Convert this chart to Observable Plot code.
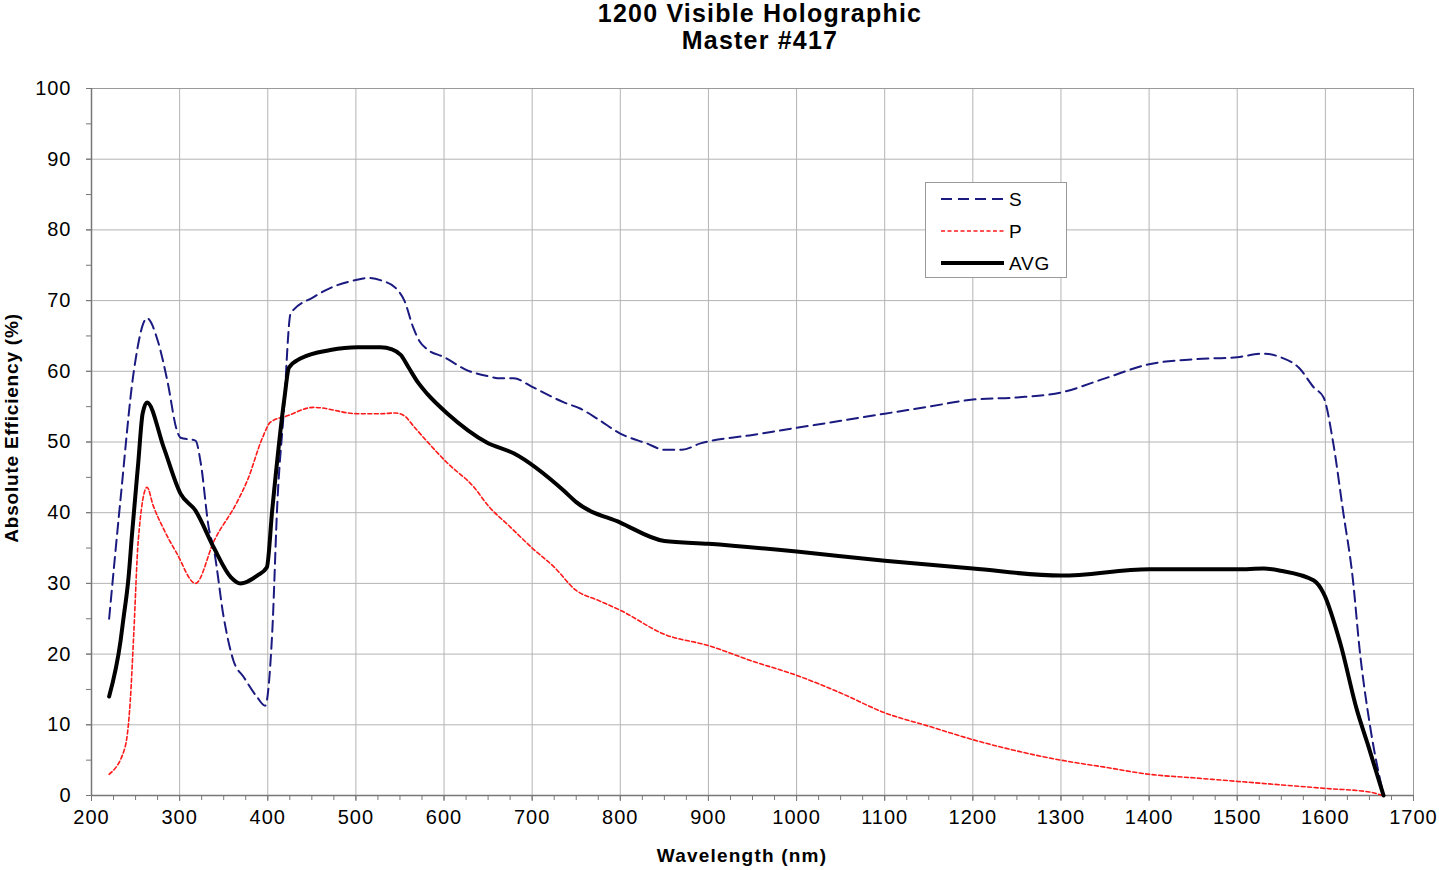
<!DOCTYPE html>
<html>
<head>
<meta charset="utf-8">
<script src="https://cdn.jsdelivr.net/npm/d3@7"></script>
<script src="https://cdn.jsdelivr.net/npm/@observablehq/plot@0.6"></script>
<style>
  html, body { margin: 0; padding: 0; background: #fff; }
  body { width: 1439px; height: 870px; position: relative; overflow: hidden; font-family: "Liberation Sans", Arial, sans-serif; }
  #title { position: absolute; left: 0; top: 0; width: 1520px; text-align: center; font-weight: bold; font-size: 25px; line-height: 27px; letter-spacing: 1.2px; color: #000; }
  #chart { position: absolute; left: 0; top: 60px; }
  #xlabel { position: absolute; top: 845px; left: 0; width: 1484px; text-align: center; font-weight: bold; font-size: 19px; letter-spacing: 1.2px; }
  #ylabel { position: absolute; left: 12px; top: 428px; transform: translate(-50%, -50%) rotate(-90deg); white-space: nowrap; font-weight: bold; font-size: 19px; letter-spacing: 0.8px; }
  #legend { position: absolute; left: 925px; top: 182px; width: 142px; height: 96px; background: #fff; border: 1px solid #999; box-sizing: border-box; }
  #chart text { letter-spacing: 1px; }
</style>
</head>
<body>
<div id="title">1200 Visible Holographic<br>Master #417</div>
<div id="chart"></div>
<div id="xlabel">Wavelength (nm)</div>
<div id="ylabel">Absolute Efficiency (%)</div>
<div id="legend"></div>
<script>
// S polarization
const sWl = [220,233,248,263,275,286,297,301,318,324,333,339,350,361,373,388,397,405,411,418,426,452,475,500,515,530,545,555,565,572,580,600,627,650,664,679,700,736,755,775,800,830,850,870,891,950,1000,1050,1100,1150,1200,1250,1300,1350,1400,1450,1500,1530,1549,1570,1587,1598,1609,1620,1631,1639,1651,1666];
const sVal = [25,42,60,67.5,64.4,58.7,51.6,50.6,50.2,47,37.9,34.7,25.2,19.1,16.7,13.9,12.7,22.9,41.7,54,68.2,70.5,72,72.9,73.2,72.8,71.8,70,66.2,64.3,63.2,62,60.1,59.3,59,59,57.8,55.6,54.7,53.2,51.2,49.8,48.9,48.9,49.8,51,52,53,54,55,56,56.3,57,59,61,61.7,62,62.5,62,60.5,57.7,56.3,49.8,40.3,30.8,20.5,9.6,0];
// P polarization
const pWl = [220,238,244,248,253,263,270,281,297,318,339,366,377,394,403,422,452,502,528,545,556,565,577,604,634,650,675,700,725,750,775,800,850,900,950,1000,1050,1100,1150,1200,1250,1300,1350,1400,1450,1500,1550,1600,1650,1665];
const pVal = [3,6.8,13.4,23,36,43.6,41,37.9,34.2,30,36,41.7,44.6,50.6,52.8,53.7,54.9,54,54,54.1,53.6,52.3,50.6,47,43.6,41,38,35,32.3,29,27.6,26.2,22.8,21.2,19,17,14.5,11.7,9.8,7.9,6.3,5,4,3,2.5,2,1.5,1,0.5,0];
// Average
const aWl = [220,233,236,242,246,253,258,263,282,301,318,339,358,369,388,399,405,419,424,437,471,502,528,541,551,560,570,581,604,649,679,736,750,800,850,900,1000,1100,1200,1300,1400,1500,1530,1549,1587,1598,1617,1636,1648,1666];
const aVal = [14,21.9,24.8,30.8,37,47,54,55.6,49.2,42.7,40.3,35,30.9,30,31.1,32.3,40.3,56.3,60.5,61.8,63,63.4,63.4,63.1,62.3,60.5,58.5,56.8,54,49.9,48.4,43.1,41.5,38.6,36,35.6,34.5,33.2,32.1,31.1,32,32,32.1,31.8,30.4,28.6,21.5,12,7.3,0];

const xMajor = d3.range(200, 1701, 100);
const xMinor = d3.range(200, 1701, 25);
const yMajor = d3.range(0, 101, 10);
const yMinor = d3.range(0, 101, 5);

const toRows = (wl, v) => wl.map((w, i) => ({wl: w, v: v[i]}));
const sRows = toRows(sWl, sVal), pRows = toRows(pWl, pVal), aRows = toRows(aWl, aVal);

const plot = Plot.plot({
  width: 1439, height: 810,
  marginTop: 28, marginBottom: 75, marginLeft: 91, marginRight: 26,
  x: {domain: [200, 1700]},
  y: {domain: [0, 100]},
  style: {fontFamily: "'Liberation Sans', Arial, sans-serif", fontSize: "20px", color: "#000", background: "#fff", overflow: "visible"},
  marks: [
    Plot.gridX(xMajor, {stroke: "#b4b4b4", strokeOpacity: 1, strokeWidth: 1}),
    Plot.gridY(yMajor, {stroke: "#b4b4b4", strokeOpacity: 1, strokeWidth: 1}),
    Plot.frame({stroke: "#9a9a9a"}),
    Plot.axisX({ticks: xMinor, tickSize: 5, tickFormat: () => "", label: null, stroke: "#777"}),
    Plot.axisX({ticks: xMajor, tickSize: 6, tickPadding: 8, tickFormat: d => String(d), label: null, stroke: "#777"}),
    Plot.axisY({ticks: yMinor, tickSize: 5, tickFormat: () => "", label: null, stroke: "#777"}),
    Plot.axisY({ticks: yMajor, tickSize: 5, tickPadding: 15, tickFormat: d => String(d), label: null, stroke: "#777"}),
    Plot.ruleX([200], {stroke: "#777", strokeWidth: 1.5}),
    Plot.ruleY([0], {stroke: "#777", strokeWidth: 1.5}),
    Plot.line(pRows, {x: "wl", y: "v", stroke: "#ff1a1a", strokeWidth: 1.6, strokeDasharray: "4,2.5", curve: "monotone-x"}),
    Plot.line(sRows, {x: "wl", y: "v", stroke: "#1a1a80", strokeWidth: 2, strokeDasharray: "11,6", curve: "monotone-x"}),
    Plot.line(aRows, {x: "wl", y: "v", stroke: "#000", strokeWidth: 4, curve: "monotone-x"})
  ]
});
document.getElementById("chart").appendChild(plot);

// legend
const items = [
  {name: "S", stroke: "#1a1a80", w: 2, dash: "11,6"},
  {name: "P", stroke: "#ff1a1a", w: 1.6, dash: "4,2.5"},
  {name: "AVG", stroke: "#000", w: 4, dash: null}
];
const lg = d3.select("#legend").append("svg").attr("width", 142).attr("height", 96);
items.forEach((it, i) => {
  const cy = 16 + i * 32;
  const ln = lg.append("line").attr("x1", 15).attr("x2", 78).attr("y1", cy).attr("y2", cy)
    .attr("stroke", it.stroke).attr("stroke-width", it.w);
  if (it.dash) ln.attr("stroke-dasharray", it.dash);
  lg.append("text").attr("x", 83).attr("y", cy).attr("dy", "0.36em")
    .attr("font-family", "'Liberation Sans', Arial, sans-serif").attr("font-size", 19)
    .attr("letter-spacing", "0.8px").text(it.name);
});
</script>
</body>
</html>
